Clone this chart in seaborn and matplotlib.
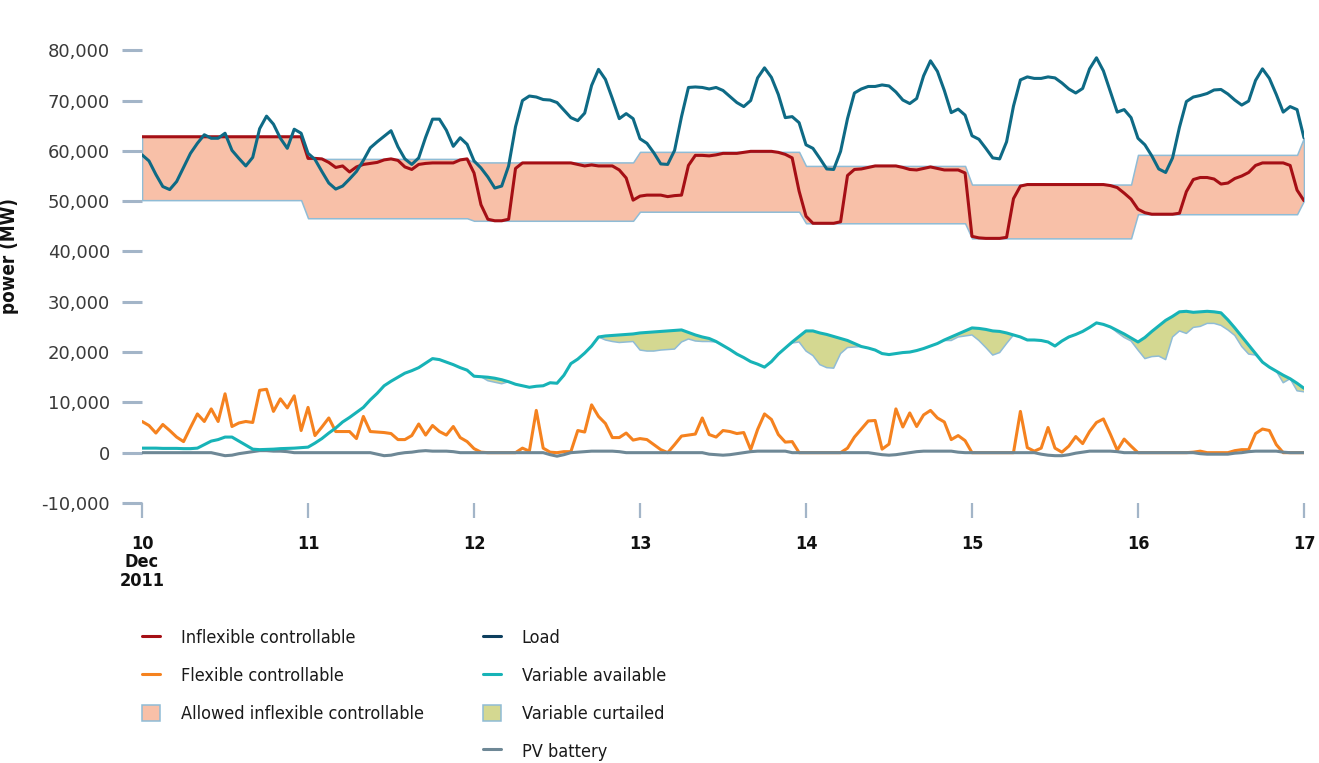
import numpy as np
import pandas as pd
import matplotlib
matplotlib.use("Agg")
import matplotlib.pyplot as plt
from matplotlib import font_manager as fm
from matplotlib.lines import Line2D
from matplotlib.patches import Patch
from matplotlib.font_manager import FontProperties
import seaborn as sns

# hourly values from 10 Dec 2011 00:00 to 17 Dec 2011 00:00, in 1000 MW
load = [
    59.2, 58.0, 55.3, 52.9, 52.3, 53.9, 56.7, 59.5, 61.5, 63.2, 62.5, 62.5, 63.5, 60.1, 58.5, 57.0, 58.7, 64.4, 66.9, 65.3, 62.5, 60.5, 64.3, 63.5,
    59.5, 58.3, 55.9, 53.6, 52.4, 53.0, 54.4, 55.9, 58.1, 60.6, 61.8, 62.9, 64.0, 60.8, 58.4, 57.3, 58.6, 62.7, 66.3, 66.3, 64.1, 60.9, 62.6, 61.3,
    58.0, 56.6, 54.8, 52.6, 53.0, 57.0, 64.8, 70.0, 70.9, 70.7, 70.2, 70.1, 69.6, 68.1, 66.6, 66.0, 67.5, 73.0, 76.2, 74.2, 70.4, 66.4, 67.4, 66.4,
    62.4, 61.5, 59.6, 57.4, 57.3, 60.1, 66.8, 72.6, 72.7, 72.6, 72.3, 72.6, 72.0, 70.8, 69.6, 68.8, 70.0, 74.5, 76.5, 74.6, 71.2, 66.6, 66.8, 65.6,
    61.2, 60.5, 58.5, 56.4, 56.3, 59.9, 66.4, 71.5, 72.3, 72.8, 72.8, 73.1, 72.9, 71.7, 70.1, 69.4, 70.4, 74.9, 77.9, 75.8, 72.0, 67.6, 68.3, 67.1,
    63.0, 62.3, 60.5, 58.6, 58.4, 61.8, 68.9, 74.1, 74.7, 74.4, 74.4, 74.7, 74.5, 73.5, 72.3, 71.5, 72.4, 76.3, 78.5, 75.9, 71.8, 67.7, 68.2, 66.6,
    62.5, 61.2, 59.0, 56.4, 55.7, 58.6, 64.7, 69.8, 70.7, 71.0, 71.4, 72.1, 72.2, 71.3, 70.1, 69.1, 69.9, 74.0, 76.3, 74.4, 71.2, 67.7, 68.8, 68.2,
    62.6,
]

inflexible = [
    62.8, 62.8, 62.8, 62.8, 62.8, 62.8, 62.8, 62.8, 62.8, 62.8, 62.8, 62.8, 62.8, 62.8, 62.8, 62.8, 62.8, 62.8, 62.8, 62.8, 62.8, 62.8, 62.8, 62.8,
    58.5, 58.5, 58.4, 57.7, 56.7, 57.0, 55.8, 56.8, 57.3, 57.5, 57.7, 58.2, 58.4, 58.1, 56.8, 56.3, 57.3, 57.5, 57.6, 57.6, 57.6, 57.6, 58.2, 58.4,
    55.6, 49.3, 46.4, 46.1, 46.1, 46.4, 56.5, 57.6, 57.6, 57.6, 57.6, 57.6, 57.6, 57.6, 57.6, 57.3, 57.0, 57.2, 57.0, 57.0, 57.0, 56.2, 54.6, 50.2,
    51.0, 51.2, 51.2, 51.2, 50.9, 51.1, 51.2, 57.1, 59.1, 59.1, 59.0, 59.2, 59.5, 59.5, 59.5, 59.7, 59.9, 59.9, 59.9, 59.9, 59.7, 59.3, 58.6, 52.0,
    47.0, 45.6, 45.6, 45.6, 45.6, 45.9, 55.1, 56.3, 56.4, 56.7, 57.0, 57.0, 57.0, 57.0, 56.7, 56.3, 56.2, 56.5, 56.8, 56.5, 56.2, 56.2, 56.2, 55.6,
    43.0, 42.7, 42.6, 42.6, 42.6, 42.8, 50.5, 53.0, 53.3, 53.3, 53.3, 53.3, 53.3, 53.3, 53.3, 53.3, 53.3, 53.3, 53.3, 53.3, 53.1, 52.7, 51.6, 50.4,
    48.4, 47.7, 47.4, 47.4, 47.4, 47.4, 47.6, 51.9, 54.3, 54.7, 54.7, 54.4, 53.4, 53.6, 54.5, 55.0, 55.7, 57.1, 57.6, 57.6, 57.6, 57.6, 57.1, 52.2,
    50.1,
]

flexible = [
    6.2, 5.4, 3.9, 5.6, 4.4, 3.1, 2.2, 5.0, 7.7, 6.2, 8.7, 6.2, 11.7, 5.2, 5.9, 6.2, 6.0, 12.4, 12.6, 8.2, 10.7, 8.9, 11.3, 4.4,
    9.0, 3.4, 5.1, 6.9, 4.2, 4.2, 4.2, 2.8, 7.2, 4.2, 4.1, 4.0, 3.8, 2.6, 2.6, 3.4, 5.7, 3.5, 5.4, 4.2, 3.5, 5.2, 3.0, 2.2,
    0.8, 0.1, 0.0, 0.0, 0.0, 0.0, 0.0, 0.9, 0.3, 8.4, 0.9, 0.1, 0.0, 0.2, 0.2, 4.4, 4.1, 9.5, 7.2, 5.8, 3.0, 3.0, 3.9, 2.5,
    2.8, 2.6, 1.6, 0.6, 0.0, 1.6, 3.3, 3.5, 3.7, 6.9, 3.6, 3.1, 4.4, 4.2, 3.8, 4.0, 0.6, 4.6, 7.7, 6.6, 3.6, 2.1, 2.2, 0.0,
    0.0, 0.0, 0.0, 0.0, 0.0, 0.0, 0.9, 3.1, 4.7, 6.3, 6.4, 0.7, 1.7, 8.7, 5.1, 7.9, 5.2, 7.5, 8.4, 6.9, 6.1, 2.6, 3.4, 2.4,
    0.0, 0.0, 0.0, 0.0, 0.0, 0.0, 0.0, 8.2, 1.0, 0.3, 0.9, 5.0, 0.9, 0.1, 1.3, 3.2, 1.8, 4.2, 6.0, 6.7, 3.7, 0.5, 2.7, 1.3,
    0.0, 0.0, 0.0, 0.0, 0.0, 0.0, 0.0, 0.0, 0.1, 0.3, 0.0, 0.0, 0.0, 0.0, 0.4, 0.6, 0.6, 3.8, 4.7, 4.4, 1.6, 0.0, 0.0, 0.0,
    0.0,
]

variable_available = [
    0.9, 0.9, 0.9, 0.85, 0.85, 0.85, 0.8, 0.8, 0.9, 1.6, 2.3, 2.6, 3.1, 3.1, 2.3, 1.5, 0.7, 0.6, 0.65, 0.7, 0.8, 0.85, 0.9, 1.0,
    1.1, 1.9, 2.8, 3.9, 4.9, 6.1, 7.0, 8.0, 9.0, 10.5, 11.8, 13.3, 14.2, 15.0, 15.8, 16.3, 16.9, 17.8, 18.7, 18.5, 18.0, 17.5, 16.9, 16.4,
    15.2, 15.1, 15.0, 14.8, 14.5, 14.1, 13.6, 13.3, 13.0, 13.2, 13.3, 13.9, 13.8, 15.4, 17.7, 18.6, 19.8, 21.2, 23.0, 23.2, 23.3, 23.4, 23.5, 23.6,
    23.8, 23.9, 24.0, 24.1, 24.2, 24.3, 24.4, 23.9, 23.4, 23.0, 22.7, 22.1, 21.3, 20.5, 19.6, 18.9, 18.1, 17.6, 17.0, 18.1, 19.6, 20.8, 22.0, 23.1,
    24.2, 24.2, 23.8, 23.5, 23.1, 22.7, 22.3, 21.7, 21.1, 20.8, 20.4, 19.7, 19.5, 19.7, 19.9, 20.0, 20.3, 20.7, 21.2, 21.7, 22.4, 23.0, 23.6, 24.2,
    24.8, 24.7, 24.5, 24.2, 24.1, 23.8, 23.4, 23.0, 22.4, 22.4, 22.3, 22.0, 21.2, 22.2, 23.0, 23.5, 24.1, 24.9, 25.8, 25.5, 25.0, 24.3, 23.6, 22.8,
    22.0, 22.9, 24.1, 25.2, 26.3, 27.1, 28.0, 28.1, 27.9, 28.0, 28.1, 28.0, 27.8, 26.4, 24.8, 23.1, 21.4, 19.7, 18.0, 17.0, 16.2, 15.4, 14.7, 13.8,
    12.8,
]

# variable generation actually used (lower edge of the curtailed area)
variable_used = [
    0.9, 0.9, 0.9, 0.85, 0.85, 0.85, 0.8, 0.8, 0.9, 1.6, 2.3, 2.6, 3.1, 3.1, 2.3, 1.5, 0.7, 0.6, 0.65, 0.7, 0.8, 0.85, 0.9, 1.0,
    1.1, 1.9, 2.8, 3.9, 4.9, 6.1, 7.0, 8.0, 9.0, 10.5, 11.8, 13.3, 14.2, 15.0, 15.8, 16.3, 16.9, 17.8, 18.7, 18.5, 18.0, 17.5, 16.9, 16.4,
    15.2, 15.1, 14.3, 14.0, 13.7, 14.1, 13.6, 13.3, 13.0, 13.2, 13.3, 13.9, 13.8, 15.4, 17.7, 18.6, 19.8, 21.2, 23.0, 22.4, 22.1, 21.9, 22.0, 22.1,
    20.4, 20.2, 20.2, 20.4, 20.5, 20.6, 22.0, 22.6, 22.2, 22.1, 22.1, 22.0, 21.3, 20.5, 19.6, 18.9, 18.1, 17.6, 17.0, 18.1, 19.6, 20.8, 21.8, 22.0,
    20.2, 19.3, 17.5, 16.9, 16.8, 19.7, 20.9, 21.0, 21.1, 20.8, 20.4, 19.7, 19.5, 19.7, 19.9, 20.0, 20.3, 20.7, 21.2, 21.7, 22.3, 22.3, 23.0, 23.2,
    23.4, 22.3, 20.9, 19.4, 19.9, 21.7, 23.4, 23.0, 22.4, 22.4, 22.3, 22.0, 21.2, 22.2, 23.0, 23.5, 24.1, 24.9, 25.8, 25.5, 25.0, 23.9, 22.9, 22.2,
    20.4, 18.7, 19.1, 19.2, 18.5, 23.0, 24.2, 23.7, 24.9, 25.1, 25.7, 25.7, 25.3, 24.4, 23.3, 21.1, 19.6, 19.4, 18.0, 17.0, 16.2, 13.9, 14.7, 12.3,
    12.1,
]

pv_battery = [
    0, 0, 0, 0, 0, 0, 0, 0, 0, 0, 0, -0.3, -0.6, -0.5, -0.2, 0, 0.2, 0.4, 0.4, 0.3, 0.3, 0.2, 0, 0,
    0, 0, 0, 0, 0, 0, 0, 0, 0, 0, -0.3, -0.6, -0.5, -0.2, 0, 0.1, 0.3, 0.4, 0.3, 0.3, 0.3, 0.2, 0, 0,
    0, 0, 0, 0, 0, 0, 0, 0, 0, 0, 0, -0.4, -0.7, -0.4, 0, 0.1, 0.2, 0.3, 0.3, 0.3, 0.3, 0.2, 0, 0,
    0, 0, 0, 0, 0, 0, 0, 0, 0, 0, -0.3, -0.4, -0.5, -0.4, -0.2, 0, 0.2, 0.3, 0.3, 0.3, 0.3, 0.3, 0, 0,
    0, 0, 0, 0, 0, 0, 0, 0, 0, 0, -0.2, -0.4, -0.5, -0.4, -0.2, 0, 0.2, 0.3, 0.3, 0.3, 0.3, 0.3, 0.1, 0,
    0, 0, 0, 0, 0, 0, 0, 0, 0, 0, -0.3, -0.5, -0.6, -0.6, -0.4, -0.1, 0.1, 0.3, 0.3, 0.3, 0.3, 0.2, 0, 0,
    0, 0, 0, 0, 0, 0, 0, 0, 0, -0.2, -0.3, -0.3, -0.3, -0.3, -0.1, 0, 0.2, 0.3, 0.3, 0.3, 0.3, 0.1, 0, 0,
    0,
]

# allowed band for inflexible controllable, one value per day (+ start of 17 Dec)
allowed_low_daily = [50.2, 46.6, 46.1, 47.9, 45.6, 42.6, 47.4]
allowed_high_daily = [62.8, 58.4, 57.7, 59.8, 57.0, 53.3, 59.2]
allowed_low_end, allowed_high_end = 50.1, 62.6

day_labels = ["10\nDec\n2011", "11", "12", "13", "14", "15", "16", "17"]

for s in (inflexible, flexible, variable_available, variable_used, pv_battery):
    assert len(s) == len(load), len(s)

time = pd.date_range("2011-12-10", periods=len(load), freq="h")
df = pd.DataFrame({
    "time": time,
    "load": np.array(load) * 1000,
    "inflexible": np.array(inflexible) * 1000,
    "flexible": np.array(flexible) * 1000,
    "var_avail": np.array(variable_available) * 1000,
    "var_used": np.array(variable_used) * 1000,
    "pv": np.array(pv_battery) * 1000,
    "allowed_low": np.append(np.repeat(allowed_low_daily, 24), allowed_low_end) * 1000,
    "allowed_high": np.append(np.repeat(allowed_high_daily, 24), allowed_high_end) * 1000,
})

c_load = "#0e6a85"
c_inflex = "#a50f15"
c_flex = "#f5821f"
c_var = "#17b3b7"
c_pv = "#6e8896"
c_allowed = "#f8c0a8"
c_curt = "#d4d891"
c_edge = "#8fbcd6"
c_tick = "#a3b5c8"

sns.set_theme(style="white")
plt.rcParams["font.family"] = ["DejaVu Sans"]

# the labels use a condensed face; take one if the system has it
fonts = fm.fontManager.ttflist
if any(f.name == "DejaVu Sans" and "ondensed" in f.fname for f in fonts):
    narrow = dict(family=["DejaVu Sans"], stretch="condensed")
else:
    narrow = dict(family=["Liberation Sans", "DejaVu Sans"])

fig = plt.figure(figsize=(13.19, 7.63), dpi=100)
ax = fig.add_axes([0.1077, 0.3408, 0.8809, 0.6461])

ax.fill_between(df["time"], df["allowed_low"], df["allowed_high"],
                facecolor=c_allowed, edgecolor=c_edge, linewidth=1.1, zorder=1)
ax.fill_between(df["time"], df["var_used"], df["var_avail"],
                facecolor=c_curt, edgecolor="none", zorder=2)
ax.plot(df["time"], df["var_used"], color=c_edge, lw=1.1, zorder=2.5)

lw = 2.2
sns.lineplot(data=df, x="time", y="flexible", color=c_flex, lw=lw, ax=ax, zorder=3)
sns.lineplot(data=df, x="time", y="pv", color=c_pv, lw=lw, ax=ax, zorder=4)
sns.lineplot(data=df, x="time", y="var_avail", color=c_var, lw=lw, ax=ax, zorder=5)
sns.lineplot(data=df, x="time", y="inflexible", color=c_inflex, lw=lw, ax=ax, zorder=6)
sns.lineplot(data=df, x="time", y="load", color=c_load, lw=lw, ax=ax, zorder=7)

ax.set_xlim(time[0], time[-1])
ax.set_ylim(-10000, 88000)
for sp in ax.spines.values():
    sp.set_visible(False)

yt = list(range(-10000, 80001, 10000))
ax.set_yticks(yt, labels=[f"{v:,}" for v in yt], fontsize=13, color="#3a3a3a")
days = pd.date_range("2011-12-10", "2011-12-17", freq="D")
ax.set_xticks(days, labels=day_labels, fontsize=13, fontweight="bold",
              color="#111111", linespacing=1.05, **narrow)
ax.tick_params(axis="y", left=True, length=14.5, width=2.2, color=c_tick, pad=8.5)
ax.tick_params(axis="x", bottom=True, length=10.8, width=1.6, color=c_tick, pad=12)

ax.set_xlabel("")
ax.set_ylabel("power (MW)", fontsize=13.5, fontweight="bold",
              color="#111111", labelpad=16, **narrow)

fp = FontProperties(size=13, **narrow)
h1 = [Line2D([0], [0], color=c_inflex, lw=lw),
      Line2D([0], [0], color=c_flex, lw=lw),
      Patch(facecolor=c_allowed, edgecolor=c_edge, lw=1.1)]
l1 = ["Inflexible controllable", "Flexible controllable", "Allowed inflexible controllable"]
h2 = [Line2D([0], [0], color="#0d3f5e", lw=lw),
      Line2D([0], [0], color=c_var, lw=lw),
      Patch(facecolor=c_curt, edgecolor=c_edge, lw=1.1),
      Line2D([0], [0], color=c_pv, lw=lw)]
l2 = ["Load", "Variable available", "Variable curtailed", "PV battery"]

leg_kw = dict(loc="upper left", frameon=False, prop=fp, handlelength=1.0,
              handleheight=1.0, handletextpad=1.15, labelspacing=1.08,
              borderpad=0, borderaxespad=0)
leg1 = fig.legend(h1, l1, bbox_to_anchor=(142 / 1319, 1 - 629 / 763), **leg_kw)
leg2 = fig.legend(h2, l2, bbox_to_anchor=(483 / 1319, 1 - 629 / 763), **leg_kw)
for leg in (leg1, leg2):
    for t in leg.get_texts():
        t.set_color("#1a1a1a")

fig.savefig("out.png", dpi=100, facecolor="white")
